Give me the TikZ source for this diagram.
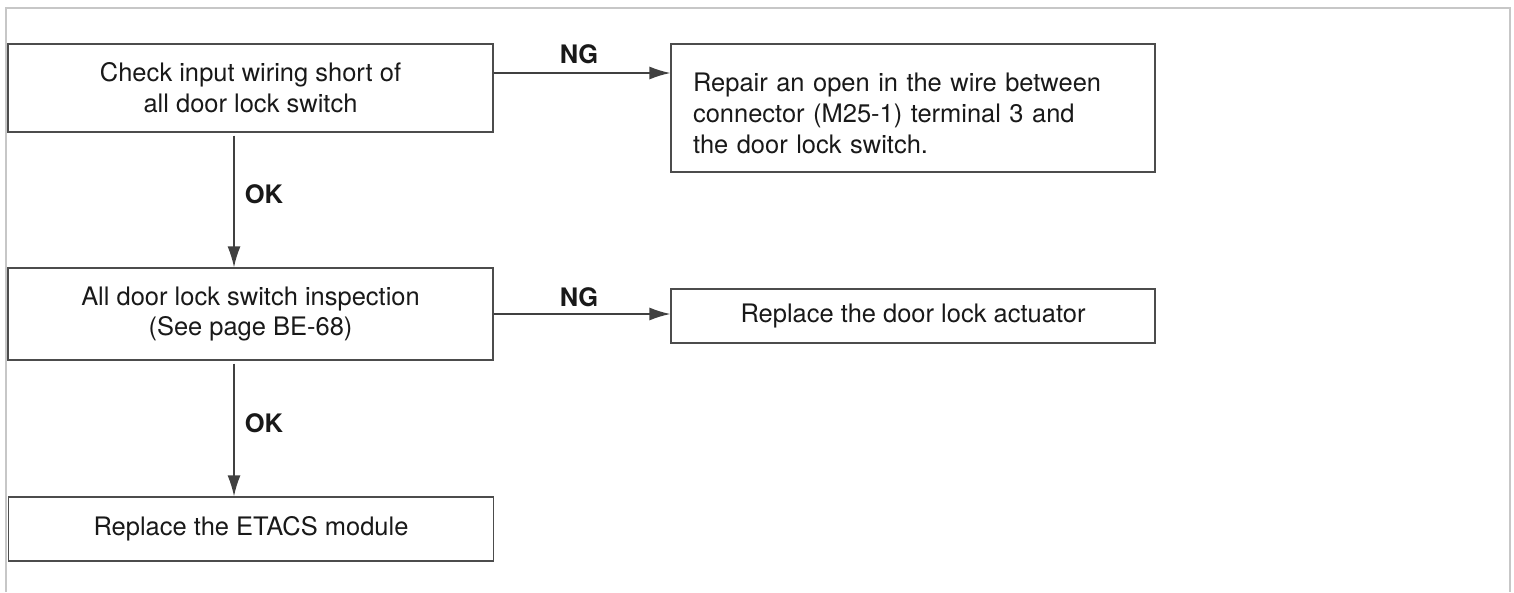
\documentclass[tikz,border=0pt]{standalone}
\usepackage{fontspec}
\setmainfont{TeX Gyre Heros}
\usetikzlibrary{arrows.meta}

\begin{document}
\begin{tikzpicture}[x=0.02cm, y=-0.02cm,
		flowbox/.style={draw=black!70, line width=0.028cm, minimum width=9.7cm, align=center, inner sep=0pt, text=black!90, font=\fontsize{14.5}{17.6}\selectfont},
		answer/.style={inner sep=0pt, text=black!90, font=\fontsize{14.5}{17.6}\selectfont\bfseries},
		flowline/.style={draw=black!75, line width=0.028cm, -{Latex[length=0.42cm, width=0.26cm]}}]
	\useasboundingbox (0, 0) rectangle (1514, 592);
	\draw[black!22, line width=0.04cm] (6, 592) -- (6, 8) -- (1510, 8) -- (1510, 592);
	\node[flowbox, minimum height=1.76cm] (check) at (250.5, 88) {Check input wiring short of\\all door lock switch};
	\node[flowbox, minimum width=9.68cm, minimum height=2.56cm, text width=8.8cm, inner xsep=0.44cm, align=left] (repair) at (913, 108)
		{\rule{0pt}{0.6cm}Repair an open in the wire between\\connector (M25-1) terminal 3 and\\the door lock switch.};
	\node[flowbox, minimum height=1.84cm] (insp) at (250.5, 314) {All door lock switch inspection\\(See page BE-68)};
	\node[flowbox, minimum width=9.68cm, minimum height=1.08cm] (actuator) at (913, 316) {Replace the door lock actuator};
	\node[flowbox, minimum height=1.28cm] (etacs) at (251, 529) {Replace the ETACS module};
	\node[answer] (ng1) at (579, 54) {NG};
	\node[answer] (ng2) at (579, 297) {NG};
	\node[answer] (ok1) at (264, 194) {OK};
	\node[answer] (ok2) at (264, 423) {OK};
	\draw[flowline] ([yshift=0.3cm]check.east) -- ([yshift=0.3cm]check.east -| repair.west);
	\draw[flowline] (insp.east) -- (insp.east -| actuator.west);
	\draw[flowline, shorten <=0.06cm] ([xshift=-0.33cm]check.south) -- ([xshift=-0.33cm]check.south |- insp.north);
	\draw[flowline, shorten <=0.06cm] ([xshift=-0.33cm]insp.south) -- ([xshift=-0.33cm]insp.south |- etacs.north);
\end{tikzpicture}
\end{document}
